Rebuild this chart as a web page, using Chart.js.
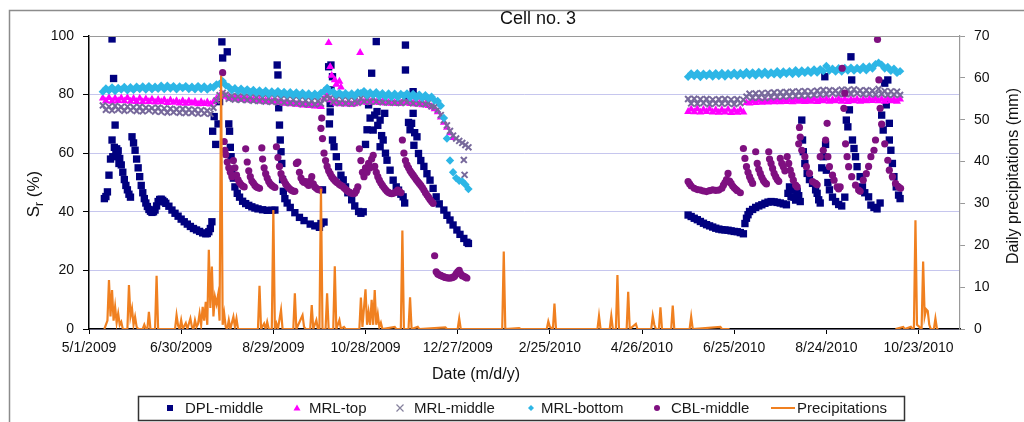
<!DOCTYPE html>
<html>
<head>
<meta charset="utf-8">
<title>Cell no. 3</title>
<script src="https://cdn.jsdelivr.net/npm/chart.js@4.4.1/dist/chart.umd.min.js"></script>
<style>
  html, body { margin: 0; padding: 0; background: #fff; }
  canvas { display: block; }
</style>
</head>
<body>
<canvas id="cell3" width="1024" height="422"></canvas>
<script>
// x values are days counted from 5/1/2009
const xTickDays = [0, 60, 120, 180, 240, 300, 360, 420, 480, 540];

// sampling days of the dense MRL records
const bandDays1 = [
  9, 11, 13, 15, 17, 19, 21, 23, 25, 27,
  29, 31, 33, 35, 37, 39, 41, 43, 45, 47,
  49, 51, 53, 55, 57, 59, 61, 63, 65, 67,
  69, 71, 73, 75, 77, 79, 81, 83, 85, 87,
  89, 91, 93, 95, 97, 99, 101, 103, 105, 107,
  109, 111, 113, 115, 117, 119, 121, 123, 125, 127,
  129, 131, 133, 135, 137, 139, 141, 143, 145, 147,
  149, 151, 153, 155, 157, 159, 161, 163, 165, 167,
  169, 171, 173, 175, 177, 179, 181, 183, 185, 187,
  189, 191, 193, 195, 197, 199, 201, 203, 205, 207,
  209, 211, 213, 215, 217, 219, 221, 223, 225, 227,
  229, 231, 233, 235, 237, 239, 241, 243, 245, 247
];
const bandDays2 = [
  390, 392, 394, 396, 398, 400, 402, 404, 406, 408,
  410, 412, 414, 416, 418, 420, 422, 424, 426, 428,
  430, 432, 434, 436, 438, 440, 442, 444, 446, 448,
  450, 452, 454, 456, 458, 460, 462, 464, 466, 468,
  470, 472, 474, 476, 478, 480, 482, 484, 486, 488,
  490, 492, 494, 496, 498, 500, 502, 504, 506, 508,
  510, 512, 514, 516, 518, 520, 522, 524, 526, 528
];

// MRL-top, Sr (%)
const mrlTop1 = [
  78.8, 77.8, 78.9, 77.7, 78.7, 77.9, 78.8, 77.8, 78.9, 77.7,
  78.6, 77.6, 78.7, 77.5, 78.5, 77.6, 78.4, 77.4, 78.3, 77.5,
  78.2, 77.2, 78.1, 77.3, 77.9, 77.1, 77.9, 77.0, 77.8, 77.1,
  77.6, 76.8, 77.5, 76.9, 77.4, 76.7, 77.5, 78.6, 79.5, 80.0,
  79.4, 79.0, 78.6, 78.9, 78.4, 78.7, 78.3, 78.5, 78.1, 78.3,
  77.9, 78.1, 77.7, 77.9, 77.5, 77.7, 77.8, 77.4, 77.2, 77.0,
  77.1, 76.8, 77.0, 76.6, 76.8, 76.4, 76.6, 76.2, 76.4, 76.0,
  76.1, 75.9, 78.5, 79.5, 78.2, 77.4, 77.0, 76.8, 77.0, 76.7,
  76.9, 76.6, 76.8, 77.2, 77.8, 77.5, 77.2, 77.5, 77.8, 77.4,
  77.2, 77.5, 77.1, 77.3, 77.0, 77.2, 76.9, 77.1, 77.6, 77.2,
  76.9, 77.1, 76.7, 76.9, 76.5, 76.6, 76.2, 75.8, 75.1, 74.1,
  72.3, 70.5, 68.8, 66.9, 65.3, null, null, null, null, null
];
const mrlTop2 = [
  74.2, 75.0, 74.1, 75.1, 74.0, 74.9, 74.2, 75.0, 74.0, 74.8,
  73.9, 74.8, 74.0, 74.9, 73.8, 74.7, 73.9, 74.8, 74.0, 77.2,
  77.1, 77.9, 77.2, 78.0, 77.3, 77.9, 77.4, 78.1, 77.5, 78.2,
  77.5, 78.2, 77.6, 78.3, 77.5, 78.2, 77.7, 78.3, 77.6, 78.2,
  77.7, 78.4, 77.6, 78.3, 77.8, 78.4, 77.7, 78.3, 77.8, 78.5,
  77.7, 78.4, 77.6, 78.3, 77.8, 78.4, 77.7, 78.3, 77.8, 78.4,
  77.9, 78.5, 77.8, 78.4, 77.7, 78.5, 77.8, 78.3, 77.7, 78.4
];
const mrlTopPeaks = [[156, 97.7], [157, 89.5], [158, 86.5], [160, 85], [161, 83.5], [163, 84.5], [164, 82.5], [176.5, 94.3]];

// MRL-middle, Sr (%)
const mrlMid1 = [
  76.3, 74.8, 75.9, 74.6, 76.1, 74.9, 75.8, 74.5, 75.9, 74.7,
  75.7, 74.4, 75.8, 74.3, 75.5, 74.6, 75.4, 74.2, 75.5, 74.1,
  75.3, 73.9, 75.2, 74.0, 75.0, 73.8, 75.1, 73.7, 74.9, 73.8,
  74.8, 73.5, 74.7, 73.6, 74.5, 73.4, 75.5, 78.0, 79.8, 80.6,
  80.0, 78.6, 79.5, 78.3, 79.4, 78.2, 79.3, 78.1, 79.2, 77.9,
  79.0, 77.8, 78.9, 77.6, 78.8, 77.5, 78.9, 77.4, 78.6, 77.3,
  78.5, 77.1, 78.3, 77.0, 78.2, 76.8, 78.1, 76.7, 77.9, 76.6,
  77.8, 76.9, 78.6, 79.4, 78.8, 77.5, 78.4, 77.1, 78.2, 77.0,
  78.1, 76.9, 78.0, 77.2, 78.8, 77.6, 78.5, 77.5, 78.9, 77.6,
  78.6, 77.4, 78.5, 77.3, 78.4, 77.2, 78.3, 77.1, 78.8, 77.4,
  78.2, 77.0, 78.0, 76.9, 77.8, 76.7, 77.4, 76.0, 75.8, 74.8,
  73.0, 71.2, 69.5, 67.6, 66.0, 65.0, 64.2, 63.5, 62.8, 62.0
];
const mrlMid2 = [
  78.5, 77.0, 78.6, 76.9, 78.4, 77.1, 78.5, 76.8, 78.3, 77.0,
  78.4, 76.9, 78.5, 77.0, 78.3, 76.8, 78.4, 77.1, 78.2, 79.3,
  80.3, 78.9, 80.4, 79.0, 80.5, 78.8, 80.6, 79.1, 80.7, 79.2,
  80.8, 79.3, 80.9, 79.4, 81.0, 79.5, 81.1, 79.6, 81.2, 79.7,
  81.1, 79.9, 81.3, 80.0, 81.6, 80.1, 81.5, 80.4, 81.3, 80.2,
  81.7, 80.3, 81.6, 80.2, 81.8, 80.4, 81.4, 80.1, 81.5, 80.2,
  81.3, 80.0, 81.9, 80.2, 81.2, 79.9, 81.1, 80.0, 81.0, 79.9
];
const mrlMidLast = [[244, 57.7], [244.5, 52.6]];

// MRL-bottom, Sr (%)
const mrlBot1 = [
  81.0, 82.1, 81.4, 82.4, 81.2, 82.3, 81.7, 82.6, 81.5, 82.5,
  81.6, 82.7, 81.9, 82.8, 81.7, 82.9, 81.8, 82.7, 82.0, 83.0,
  81.9, 83.0, 82.1, 82.9, 81.8, 82.8, 82.2, 82.9, 81.9, 82.7,
  81.8, 82.9, 81.9, 82.8, 81.7, 82.6, 82.4, 83.5, 83.6, 84.6,
  83.2, 82.6, 81.5, 82.2, 81.2, 82.0, 81.0, 81.8, 80.7, 81.6,
  80.6, 81.4, 80.4, 81.3, 80.2, 81.1, 80.3, 81.2, 80.1, 80.9,
  79.9, 80.8, 79.8, 80.7, 79.6, 80.6, 79.5, 80.4, 79.4, 80.3,
  79.5, 80.6, 81.2, 82.3, 81.0, 81.0, 79.9, 80.6, 79.7, 80.5,
  79.6, 80.4, 79.5, 80.7, 80.5, 81.2, 79.8, 80.7, 79.9, 80.8,
  79.4, 80.5, 79.3, 80.4, 79.2, 80.3, 79.1, 80.2, 79.6, 80.4,
  79.0, 80.2, 78.9, 80.0, 78.8, 79.8, 78.7, 79.3, 78.0, 77.8,
  76.2, 72.0, 65.0, 57.5, 53.5, 51.5, 50.6, 50.4, 49.3, 47.8
];
const mrlBot2 = [
  86.1, 87.2, 86.3, 87.3, 86.0, 87.1, 86.4, 87.2, 86.2, 87.3,
  86.3, 87.4, 86.2, 87.3, 86.5, 87.5, 86.4, 87.4, 86.6, 87.7,
  86.6, 87.6, 86.5, 87.7, 86.8, 87.8, 86.7, 87.6, 86.9, 88.0,
  86.8, 87.9, 87.1, 88.0, 87.0, 88.3, 87.1, 88.2, 87.4, 88.3,
  87.4, 88.6, 87.5, 88.7, 88.0, 89.8, 88.2, 88.8, 87.9, 89.0,
  87.9, 89.1, 88.2, 89.2, 88.2, 89.1, 88.4, 89.5, 88.3, 89.6,
  88.9, 90.4, 90.9, 90.2, 88.9, 89.4, 88.1, 88.8, 87.4, 88.0
];

// DPL-middle, [day, Sr %]
const dplMiddle = [
  [10, 44.5], [11, 45.2], [12, 46.8], [13, 52.5], [14, 58], [15, 99], [15, 64.5], [15.5, 58.8], [16, 85.5], [16.5, 62],
  [17, 69.6], [17.5, 60.5], [18, 61.5], [18.5, 59], [19, 60.8], [19.5, 56.5], [20, 58.2], [21, 56], [22, 53.5], [23, 51],
  [24, 49], [25, 47.5], [26, 46], [27, 45],
  [28, 65.6], [29, 63.5], [30, 61], [31, 58], [32, 55], [33, 52], [34, 49], [35, 46.5], [36, 44.5], [37, 43],
  [38, 41.8], [39, 40.8], [40, 40.2], [41, 39.8], [42, 40], [43, 40.6], [44, 42], [45, 43.5], [46, 44.2], [47, 44.3],
  [48, 43.9], [49, 43.4], [50, 42.9], [52, 41.9], [54, 40.6], [56, 39.5], [58, 38.5], [60, 37.5], [62, 36.6], [64, 35.8],
  [66, 35], [68, 34.3], [70, 33.8], [72, 33.3], [74, 32.8], [76, 32.5], [77, 32.6], [78, 33.2], [79, 34.3], [80, 36.6],
  [80.5, 67.5], [81.5, 72.5], [82.5, 63], [84, 70], [85, 77.6], [86.5, 98], [87, 92.5], [90, 94.6], [91, 70], [91.5, 67.5],
  [92, 62], [92.5, 58.8], [93, 54.5], [94, 51.5], [95, 48.5], [96.5, 46.3], [98, 45], [100, 43.6], [102, 42.8], [104, 42.2],
  [106, 41.7], [108, 41.3], [110, 41], [113, 40.7], [116, 40.5], [119, 40.5], [121, 40.6],
  [122.5, 90.1], [123, 86.7], [123.5, 75.5], [124, 69.6], [124.5, 64.5], [125, 60.5], [125.5, 56.5], [126, 51], [126.5, 47], [127.5, 44.5],
  [129, 43], [131, 41.5], [134, 39.7], [137, 38.1], [140, 37], [144, 35.8], [147, 35.2], [150, 34.7], [151, 36], [152, 47.5],
  [153, 36.5],
  [156, 89.5], [157.5, 90.1], [158.5, 86.1], [157.5, 81.6], [157, 76.9], [157, 74.1], [156.5, 70], [158.5, 64.5], [159.5, 62.2], [161, 58.8],
  [162.5, 55.4], [164, 52.5], [165.5, 50.9], [167, 48.5], [168.5, 46.5], [171, 44.1], [173, 42], [175.5, 40.1], [177, 39.5], [178.5, 40],
  [180, 63], [181, 68], [182, 76.5], [183, 72], [184, 87.3], [185, 67.9], [186, 73], [187, 98.1], [187.5, 74.2], [188, 69.5],
  [189.5, 71.3], [189.5, 62.2], [190.5, 66], [191.5, 64.5], [192.5, 73.6], [193, 60], [194, 57.6], [196, 54.2], [198, 50.8], [200, 48.5],
  [201.5, 47.4], [203, 46], [204.5, 45.1], [205.5, 43],
  [206, 96.9], [206, 88.4], [207, 78], [208, 70.5], [209, 68], [210, 70.2], [211, 81], [211, 73.6], [211.5, 62.7], [212, 67],
  [213.5, 65.6], [214.5, 59.9], [216, 57.5], [218, 55.5], [220, 53], [222, 50.8], [224, 48], [226, 45.1], [228, 42.7], [231, 40.6],
  [233, 38.8], [235, 37.2], [237, 35.5], [239.5, 33.8], [241.5, 32.3], [244, 30.9], [246, 29.6], [247, 29.2],
  [390, 38.9], [392, 38.4], [394, 37.8], [396, 37.3], [398, 36.7], [400, 36.1], [402, 35.6], [404, 35.2], [406, 34.8], [408, 34.4],
  [410, 34.1], [412, 33.9], [414, 33.8], [416, 33.7], [418, 33.5], [420, 33.3], [422, 33.2], [424, 32.9], [426, 32.5], [427, 36],
  [428, 37.8], [429, 39], [430, 40.1], [432, 40.8], [434, 41.5], [436, 42], [438, 42.4], [440, 42.9], [442, 43.3], [444, 43.5],
  [446, 43.4], [448, 43.2], [450, 43], [452, 42.7], [454, 42.4], [455, 46.3], [456, 48.5], [457, 45.1], [458, 47.5], [459, 45],
  [460, 44], [461, 47], [462, 45.5], [463, 43.5], [464, 71.3], [464.5, 64.5], [465, 60.5], [466, 56.5], [467.5, 53.1], [469, 51],
  [471, 49.7], [473, 47.5], [474, 46.3], [475, 44.1], [476, 43], [477, 55], [478, 58.8], [479, 86.1], [479.5, 63], [480, 54.2],
  [481, 50], [482, 47.5], [484, 45], [486, 43.5], [488, 42.5], [490, 42], [492, 45], [493, 71.3], [494, 69], [495, 74.8],
  [496, 92.9], [496.5, 85], [497, 64.5], [498, 61.6], [499, 58.8], [500, 55.4], [502, 52], [503.5, 48.5], [505, 46.5], [507.5, 45.1],
  [509, 42.3], [511, 41.5], [513, 41], [515, 43], [516, 73], [517, 67.9], [518, 83.9], [519, 76.5], [520, 85], [521, 70.2],
  [521, 64.5], [522, 61], [523, 56.5], [524, 52], [525.5, 48.5], [527, 45.7], [528, 44.5]
];

// CBL-middle, [day, Sr %]
const cblMiddle = [
  [87, 87.5], [88, 64], [88.5, 61], [89, 59.5], [90, 57], [91, 55], [92, 53.5], [93, 52], [94, 57.5], [95, 55],
  [96, 52.5], [97, 51], [98, 50], [99, 49.3], [100, 48.8], [101, 48.5], [102, 61.5], [103, 57], [104, 54], [105, 52],
  [106, 50.5], [107, 49.8], [108, 49], [109, 48.5], [110, 48.2], [111, 48], [112.5, 61.8], [113, 58], [114, 55], [115, 53],
  [116, 51.5], [117, 50.3], [118, 49.5], [119, 49], [120, 48.6], [121, 48.3], [122, 62.2], [123, 58.5], [124, 55.5], [125, 53],
  [126, 51.5], [127, 50.5], [128, 49.5], [129, 48.8], [130, 48.2], [131, 47.7], [132, 47.3], [133, 47], [134, 47], [135, 56.5],
  [136, 57], [137, 53.5], [138, 51.5], [139, 50.5], [140, 50], [141, 50.3], [142, 49.5], [143, 49], [144, 50.5], [145, 52],
  [146, 49.5], [147, 48.5], [148, 48], [149, 47.6], [150, 47.5], [151, 68.5], [151.5, 72], [152, 65], [153, 60], [154, 57.5],
  [155, 55.5], [156, 54], [157, 53], [158, 52], [159, 51.3], [160, 50.7], [161, 50.2], [162, 49.8], [163, 49.3], [164, 49],
  [165, 48.7], [166, 48.2], [167, 47.7], [168, 47.2], [169, 46.8], [170, 46.5], [171, 46.3], [172, 46.2], [173, 46.3], [174, 47.2],
  [175, 48.5], [176, 61.5], [177, 57.5], [178, 53.5], [179, 52], [180, 55], [181, 53.5], [182, 56.5], [183, 55], [184, 58],
  [185, 59.3], [186, 55.5], [187, 53.5], [188, 52], [189, 50.8], [190, 49.8], [191, 49], [192, 48.3], [193, 47.6], [194, 47],
  [195, 46.6], [196, 46.3], [197, 46.2], [198, 46.3], [199, 46.5], [200, 46.8], [201, 47.4], [202, 47], [203, 46.5], [204, 64.5],
  [205, 60], [206, 57.5], [207, 56], [208, 55], [209, 54], [210, 53.2], [211, 52.5], [212, 51.8], [213, 51], [214, 50.3],
  [215, 49.7], [216, 49], [217, 48.3], [218, 47.4], [219, 46.5], [220, 45.7], [221, 45], [222, 44.2], [223, 43.5], [224, 42.9],
  [225, 25], [226, 19.5], [227, 18.8], [228, 18.5], [229, 18.3], [230, 18], [231, 17.8], [232, 17.6], [233, 17.5], [234, 17.4],
  [235, 17.4], [236, 17.5], [237, 17.7], [238, 18], [239, 18.8], [240, 19.5], [241, 20], [242, 18.8], [243, 18.2], [244, 18],
  [245, 17.7], [246, 17.4],
  [390, 50.3], [391, 49.5], [392, 48.8], [394, 48], [396, 47.6], [398, 47.4], [400, 47.1], [402, 46.9], [404, 47.2], [406, 47.5],
  [408, 47.3], [410, 47.4], [412, 48], [413, 49.1], [414, 50], [415, 51], [416, 53.1], [417, 50.5], [418, 49.7], [419, 48.8],
  [420, 48.2], [421, 47.7], [422, 47.2], [424, 46.5], [426, 61.6], [427, 58.2], [428, 55.4], [429, 53.5], [430, 52], [431, 50.8],
  [432, 49.7], [434, 60.5], [435, 56.5], [436, 54.5], [437, 53.1], [438, 51.8], [439, 50.7], [440, 50], [441, 49.5], [442.5, 60.5],
  [443, 58], [444, 56.5], [445, 54.8], [446, 53.1], [447, 52], [448, 51], [449, 50.4], [450, 58.2], [451, 56.5], [452, 55.4],
  [453, 54], [454.5, 58.8], [455.5, 56.5], [456.5, 54.2], [457.5, 52.5], [458.5, 50.8], [460, 49.1], [461, 48.5], [462, 63.2], [462.5, 68.8],
  [463, 65.5], [464, 61], [466, 58.8], [467, 55.4], [469, 53.1], [471, 50.3], [473, 49.7], [474, 49.2], [476, 58.8], [478, 61],
  [479.5, 64.5], [480.5, 70.2], [481, 58.8], [482, 55.4], [484, 52.5], [485, 50.8], [487, 48.5], [488, 47.8], [489, 48.5], [490.3, 89],
  [491.4, 75.3], [492, 80.5], [492.5, 63.2], [493.5, 58.8], [494.5, 55.4], [496.5, 52], [499, 49.1], [501, 47.4], [502, 47], [504, 50.8],
  [506, 53], [507.5, 55.5], [509, 58.8], [511, 61], [512, 64.5], [513.3, 98.8], [514.2, 85], [515, 75.3], [516, 69.9], [518, 63.2],
  [520, 57.6], [521, 54.2], [523, 52], [525, 49.7], [527, 48.5], [528.3, 48]
];

// daily precipitation, [day, mm]; null marks the missing record
const rain = [
  [10, 0], [12, 2], [13, 11.7], [14, 3], [15, 9.3], [16, 2], [17, 5.3], [18, 1.5], [19, 3.7], [20, 1], [21, 1.7], [22, 0],
  [25, 0], [26, 10.5], [27, 3], [28, 4.9], [29, 1], [30, 2.9], [31, 0.5], [32, 0],
  [35, 0], [36, 1], [37, 0], [38, 0], [39, 4.1], [40, 0],
  [43, 0], [44, 12.7], [45, 0],
  [56, 0], [57, 3.3], [58, 0.8], [59, 0], [60, 2.1], [61, 0], [63, 1.4], [64, 0], [66, 2.5], [67, 0.5], [68, 0],
  [69, 2.1], [70, 0.5], [71, 1.2], [72, 3.7], [73, 1], [74, 5.3], [75, 2], [76, 6.5], [77, 1], [78, 18.9],
  [79, 5], [80, 14.9], [81, 3], [82, 7.7], [83, 6], [84, 8.1], [85, 2], [86, 60.5], [87, 1], [88, 3.7],
  [89, 0.5], [90, 0], [91, 2.1], [92, 0], [94, 2.9], [95, 0.5], [96, 2.5], [97, 0],
  [110, 0], [111, 10.3], [112, 0], [114, 1.3], [115, 0], [116, 1.7], [117, 0], [119, 0], [120, 28.4], [121, 0],
  [122, 1.3], [123, 0], [125, 4.5], [126, 0],
  [133, 0], [134, 8.5], [135, 0], [139, 3.3], [140, 0.5], [141, 0], [144, 0], [145, 5.7], [146, 0], [148, 2.1],
  [149, 0], [150, 0], [151, 33.5], [152, 0], [154, 0], [155, 8.5], [156, 0], [159, 0], [160, 15], [161, 0],
  [163, 2.1], [164, 0], [166, 0.5], [167, 0],
  [176, 0], [177, 7.5], [178, 0.5], [180, 9.5], [181, 1], [182, 4], [183, 1], [184, 7], [185, 1], [186, 9.3],
  [187, 1], [188, 3.5], [189, 0.5], [190, 1.5], [191, 0],
  [199, 0.5], [200, 0], [203, 0], [204, 23.5], [205, 0], [208, 0], [209, 7.6], [210, 0], [214, 0.5], [215, 0],
  [232, 0.4], [233, 0], [240, 0], [241, 2.5], [242, 0],
  [269, 0], [270, 18.5], [271, 0], [280, 0.2], [281, 0],
  [298, 0], [299, 1.8], [300, 0.5], [302, 0], [303, 6.1], [304, 0],
  [331, 0], [332, 3.1], [333, 0], [339, 0], [340, 3.1], [341, 0], [343, 0], [344, 12.9], [345, 0], [350, 0],
  [351, 8.9], [352, 0], [356, 1.2], [357, 0], [366, 0], [367, 3.1], [368, 1], [369, 0], [371, 0], [372, 5.2],
  [373, 0], [379, 0], [380, 5.6], [381, 0], [391, 0], [392, 2.9], [393, 0], [411, 0.5], [412, 0], [417, 0],
  [470, null],
  [525, 0], [530, 0.5], [531, 0], [535, 0.5], [536, 0], [537, 0.3], [538, 26], [539, 1], [540, 0.7], [541, 0.3],
  [542, 0], [543, 16.1], [544, 3], [545, 4.7], [546, 4.3], [547, 1], [548, 0], [550, 0], [551, 2.5], [552, 0], [553, 0]
];

const FONT = "'Liberation Sans', Arial, sans-serif";

function dayLabel(v) {
  const d = new Date(2009, 4, 1 + v);
  return (d.getMonth() + 1) + '/' + d.getDate() + '/' + d.getFullYear();
}
function onDays(days, values) {
  const out = [];
  days.forEach((d, i) => { if (values[i] !== null) out.push({x: d, y: values[i]}); });
  return out;
}
function fromPairs(list) {
  return list.map(p => ({x: p[0], y: p[1]}));
}

// frame, titles and the boxed legend row
const decorations = {
  id: 'decorations',
  beforeDraw(chart) {
    const ctx = chart.ctx;
    ctx.save();
    ctx.fillStyle = '#fff';
    ctx.fillRect(0, 0, chart.width, chart.height);
    ctx.restore();
  },
  afterDraw(chart) {
    const {ctx, chartArea: {left, right, top}} = chart;
    ctx.save();
    ctx.strokeStyle = '#8c8c8c';
    ctx.lineWidth = 1.5;
    ctx.strokeRect(9.5, 10.5, 1040, 440);

    ctx.strokeStyle = '#9a9a9a';
    ctx.lineWidth = 1.2;
    ctx.beginPath();
    ctx.moveTo(left, top + 0.5);
    ctx.lineTo(right, top + 0.5);
    ctx.stroke();

    ctx.fillStyle = '#111';
    ctx.textAlign = 'center';
    ctx.textBaseline = 'middle';
    ctx.font = '18px ' + FONT;
    ctx.fillText('Cell no. 3', 538, 19);
    ctx.font = '16px ' + FONT;
    ctx.fillText('Date (m/d/y)', 476, 375);

    ctx.save();
    ctx.translate(1014, 176);
    ctx.rotate(-Math.PI / 2);
    ctx.fillText('Daily precipitations (mm)', 0, 0);
    ctx.restore();

    // S with subscript r
    ctx.save();
    ctx.translate(33, 194);
    ctx.rotate(-Math.PI / 2);
    ctx.textAlign = 'left';
    ctx.textBaseline = 'alphabetic';
    const big = '17px ' + FONT, small = '12px ' + FONT;
    ctx.font = big;
    const wS = ctx.measureText('S').width, wP = ctx.measureText(' (%)').width;
    ctx.font = small;
    const wr = ctx.measureText('r').width;
    const x0 = -(wS + wr + wP) / 2;
    ctx.font = big;
    ctx.fillText('S', x0, 6);
    ctx.font = small;
    ctx.fillText('r', x0 + wS, 10);
    ctx.font = big;
    ctx.fillText(' (%)', x0 + wS + wr, 6);
    ctx.restore();

    // legend
    const ly = 408;
    ctx.strokeStyle = '#333';
    ctx.lineWidth = 1.5;
    ctx.strokeRect(138.5, 396.5, 766, 24);
    ctx.fillStyle = '#00007f';
    ctx.fillRect(167, ly - 3, 6, 6);
    ctx.fillStyle = '#ff00ff';
    ctx.beginPath();
    ctx.moveTo(297, ly - 3.5); ctx.lineTo(300.5, ly + 2.5); ctx.lineTo(293.5, ly + 2.5);
    ctx.closePath(); ctx.fill();
    ctx.strokeStyle = '#85809c';
    ctx.lineWidth = 1.2;
    ctx.beginPath();
    ctx.moveTo(396.5, ly - 3.5); ctx.lineTo(403.5, ly + 3.5);
    ctx.moveTo(403.5, ly - 3.5); ctx.lineTo(396.5, ly + 3.5);
    ctx.stroke();
    ctx.fillStyle = '#2db6e6';
    ctx.beginPath();
    ctx.moveTo(531, ly - 3); ctx.lineTo(534, ly); ctx.lineTo(531, ly + 3); ctx.lineTo(528, ly);
    ctx.closePath(); ctx.fill();
    ctx.fillStyle = '#7f1080';
    ctx.beginPath();
    ctx.arc(657, ly, 3, 0, Math.PI * 2);
    ctx.fill();
    ctx.strokeStyle = '#f08020';
    ctx.lineWidth = 2;
    ctx.beginPath();
    ctx.moveTo(771, ly); ctx.lineTo(795, ly);
    ctx.stroke();

    ctx.fillStyle = '#1a1a1a';
    ctx.font = '15px ' + FONT;
    ctx.textAlign = 'left';
    ctx.textBaseline = 'middle';
    ctx.fillText('DPL-middle', 185, ly + 1);
    ctx.fillText('MRL-top', 309, ly + 1);
    ctx.fillText('MRL-middle', 414, ly + 1);
    ctx.fillText('MRL-bottom', 541, ly + 1);
    ctx.fillText('CBL-middle', 671, ly + 1);
    ctx.fillText('Precipitations', 797, ly + 1);
    ctx.restore();
  }
};

const tickFont = {family: FONT, size: 14};

const config = {
  type: 'scatter',
  data: {
    datasets: [
      {label: 'DPL-middle', data: fromPairs(dplMiddle), yAxisID: 'y',
       pointStyle: 'rect', pointRadius: 5.2, backgroundColor: '#00007f', borderColor: '#00007f', borderWidth: 0, order: 5},
      {label: 'MRL-top', data: onDays(bandDays1, mrlTop1).concat(onDays(bandDays2, mrlTop2), fromPairs(mrlTopPeaks)), yAxisID: 'y',
       pointStyle: 'triangle', pointRadius: 4.6, backgroundColor: '#ff00ff', borderColor: '#ff00ff', borderWidth: 0, order: 4},
      {label: 'MRL-middle', data: onDays(bandDays1, mrlMid1).concat(onDays(bandDays2, mrlMid2), fromPairs(mrlMidLast)), yAxisID: 'y',
       pointStyle: 'crossRot', pointRadius: 4.2, borderColor: '#77699b', borderWidth: 2, order: 3},
      {label: 'MRL-bottom', data: onDays(bandDays1, mrlBot1).concat(onDays(bandDays2, mrlBot2)), yAxisID: 'y',
       pointStyle: 'rectRot', pointRadius: 4.2, backgroundColor: '#2db6e6', borderColor: '#2db6e6', borderWidth: 0, order: 2},
      {label: 'CBL-middle', data: fromPairs(cblMiddle), yAxisID: 'y',
       pointStyle: 'circle', pointRadius: 3.6, backgroundColor: '#7f1080', borderColor: '#7f1080', borderWidth: 0, order: 1},
      {label: 'Precipitations', type: 'line', data: fromPairs(rain), yAxisID: 'y2',
       borderColor: '#f08020', borderWidth: 2.2, pointRadius: 0, tension: 0, spanGaps: false, fill: false, order: 0}
    ]
  },
  options: {
    responsive: false,
    animation: false,
    devicePixelRatio: 1,
    events: [],
    layout: {padding: {top: 36, left: 0, right: 0, bottom: 0}},
    plugins: {legend: {display: false}, title: {display: false}, tooltip: {enabled: false}},
    scales: {
      x: {
        type: 'linear', min: 0, max: 567,
        afterBuildTicks: s => { s.ticks = xTickDays.map(v => ({value: v})); },
        afterFit: s => { s.height = 93; },
        ticks: {callback: v => dayLabel(v), color: '#111', font: tickFont, padding: 6, maxRotation: 0, autoSkip: false},
        grid: {drawOnChartArea: false, tickLength: 5, tickColor: '#000'},
        border: {color: '#000', width: 1.5}
      },
      y: {
        type: 'linear', position: 'left', min: 0, max: 100,
        afterFit: s => { s.width = 89; },
        ticks: {stepSize: 20, color: '#111', font: tickFont, padding: 9},
        grid: {color: '#c6c6ee', lineWidth: 1, tickLength: 6, tickColor: '#000'},
        border: {color: '#000', width: 1.5}
      },
      y2: {
        type: 'linear', position: 'right', min: 0, max: 70,
        afterFit: s => { s.width = 64; },
        ticks: {stepSize: 10, color: '#111', font: tickFont, padding: 9},
        grid: {drawOnChartArea: false, tickLength: 5, tickColor: '#999'},
        border: {color: '#999', width: 1.2}
      }
    }
  },
  plugins: [decorations]
};

const cellChart = new Chart(document.getElementById('cell3'), config);
</script>
</body>
</html>
